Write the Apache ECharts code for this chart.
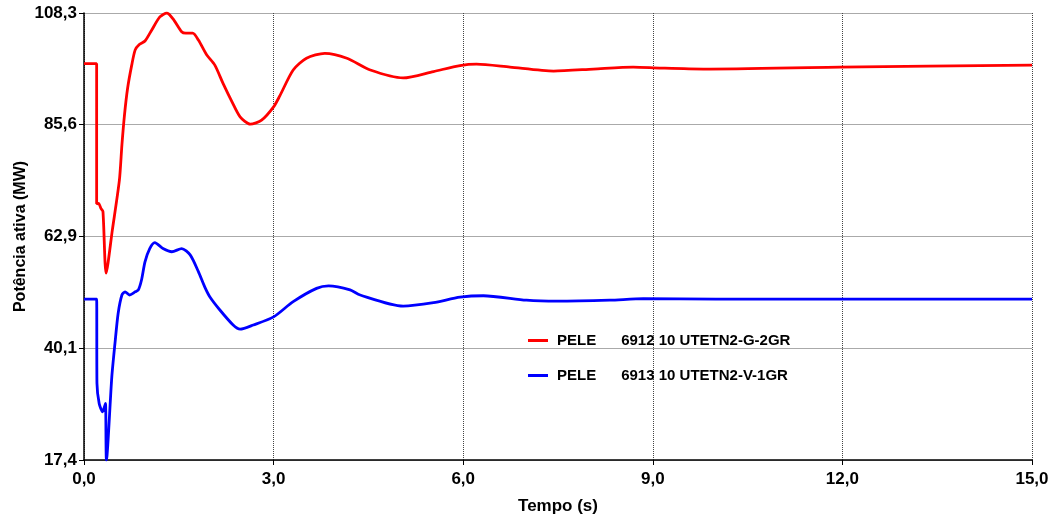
<!DOCTYPE html>
<html>
<head>
<meta charset="utf-8">
<script src="https://cdn.jsdelivr.net/npm/echarts@6/dist/echarts.min.js"></script>
<style>
html,body{margin:0;padding:0;background:#fff;}
#c{width:1051px;height:517px;}
</style>
</head>
<body>
<div id="c"></div>
<script>
// ---- data ----
const xTicks = [0, 3, 6, 9, 12, 15];
const yTicks = [17.4, 40.1, 62.9, 85.6, 108.3];
const seriesNames = ['PELE      6912 10 UTETN2-G-2GR', 'PELE      6913 10 UTETN2-V-1GR'];
const redData = [
  [0,98.0],[0.2,98.0],[0.2,69.5],[0.23,69.6],[0.27,68.5],[0.3,67.9],[0.35,55.4],[0.45,64.3],
  [0.56,74.3],[0.6,81.5],[0.64,87.5],[0.69,93.0],[0.755,97.7],[0.81,100.8],[0.875,101.9],[0.965,102.6],
  [1.07,104.8],[1.2,107.5],[1.31,108.3],[1.42,106.9],[1.545,104.5],[1.61,104.2],[1.72,104.2],
  [1.81,102.8],[1.94,99.8],[2.07,97.7],[2.2,94.0],[2.34,90.3],[2.47,87.2],[2.63,85.7],[2.81,86.5],
  [3.0,89.2],[3.1,91.5],[3.31,96.7],[3.52,99.1],[3.81,100.1],[4.16,99.1],[4.53,96.7],[5.05,95.1],
  [5.53,96.4],[5.95,97.6],[6.21,97.9],[6.74,97.3],[7.43,96.5],[8.06,96.9],[8.69,97.3],[9.11,97.1],
  [9.8,96.9],[11.96,97.3],[15,97.7]
];
const blueData = [
  [0,50.1],[0.2,50.1],[0.205,33.0],[0.24,28.9],[0.295,27.2],[0.315,27.9],[0.34,28.9],[0.355,17.4],
  [0.44,34.3],[0.49,41.1],[0.54,47.2],[0.6,50.95],[0.65,51.6],[0.72,50.95],[0.81,51.6],[0.86,52.0],
  [0.91,54.0],[0.965,57.7],[1.04,60.4],[1.12,61.6],[1.25,60.4],[1.39,59.75],[1.545,60.4],[1.68,59.1],
  [1.81,55.7],[1.91,52.6],[1.99,50.6],[2.15,47.9],[2.36,44.85],[2.47,44.0],[2.68,44.85],[3.0,46.5],
  [3.31,49.6],[3.68,52.3],[3.87,52.8],[4.21,52.0],[4.37,50.95],[5.05,48.7],[5.53,49.4],[5.95,50.5],
  [6.32,50.8],[7.0,49.9],[7.48,49.7],[8.32,49.9],[8.85,50.2],[10,50.1],[15,50.1]
];
const xTitle = 'Tempo (s)';
const yTitle = 'Potência ativa (MW)';

// ---- chart ----
const FONT = "'Liberation Sans', Arial, sans-serif";
const fmt = v => Number(v).toFixed(1).replace('.', ',');
const chart = echarts.init(document.getElementById('c'), null, {renderer: 'canvas'});
chart.setOption({
  animation: false,
  backgroundColor: '#ffffff',
  grid: {left: 84, right: 19, top: 13, bottom: 57, containLabel: false, outerBoundsMode: 'none'},
  legend: {
    left: 528, top: 333, orient: 'vertical', itemGap: 20, padding: 0,
    icon: 'rect', itemWidth: 20, itemHeight: 3,
    textStyle: {fontFamily: FONT, fontWeight: 'bold', fontSize: 15, color: '#000', padding: [0,0,0,4]},
    data: seriesNames
  },
  xAxis: {
    type: 'value', min: 0, max: 15, interval: 3,
    name: xTitle, nameLocation: 'middle', nameGap: 38, nameMoveOverlap: false,
    nameTextStyle: {fontFamily: FONT, fontWeight: 'bold', fontSize: 17, color: '#000'},
    axisLine: {lineStyle: {color: '#000', width: 1.5}},
    axisTick: {show: true, length: 5, lineStyle: {color: '#000'}},
    axisLabel: {fontFamily: FONT, fontWeight: 'bold', fontSize: 17, color: '#000', margin: 11,
      formatter: v => fmt(v), customValues: xTicks},
    splitLine: {show: true, lineStyle: {color: '#444', width: 1, type: 'dotted'}}
  },
  yAxis: {
    type: 'value', min: 17.4, max: 108.3,
    name: yTitle, nameLocation: 'middle', nameGap: 55, nameRotate: 90, nameMoveOverlap: false,
    nameTextStyle: {fontFamily: FONT, fontWeight: 'bold', fontSize: 16, color: '#000'},
    axisLine: {show: true, lineStyle: {color: '#000', width: 1.5}},
    axisTick: {show: true, length: 5, lineStyle: {color: '#000'}, customValues: yTicks},
    axisLabel: {fontFamily: FONT, fontWeight: 'bold', fontSize: 17, color: '#000', margin: 7,
      formatter: v => fmt(v), customValues: yTicks},
    splitLine: {show: true, lineStyle: {color: '#aaaaaa', width: 1}}
  },
  series: [
    {name: seriesNames[0], type: 'line', data: redData, showSymbol: false, smooth: 0.25,
     lineStyle: {color: '#ff0000', width: 2.8}, itemStyle: {color: '#ff0000'}},
    {name: seriesNames[1], type: 'line', data: blueData, showSymbol: false, smooth: 0.25,
     lineStyle: {color: '#0000ff', width: 2.8}, itemStyle: {color: '#0000ff'}}
  ]
});
</script>
</body>
</html>
